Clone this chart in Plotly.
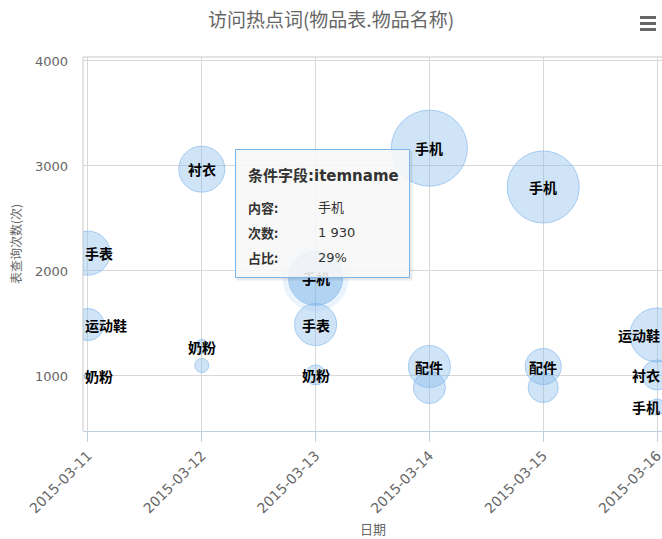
import math
import plotly.graph_objects as go

# ---- data ----
dates = ["2015-03-11", "2015-03-11", "2015-03-11",
         "2015-03-12", "2015-03-12", "2015-03-12",
         "2015-03-13", "2015-03-13", "2015-03-13",
         "2015-03-14", "2015-03-14", "2015-03-14",
         "2015-03-15", "2015-03-15", "2015-03-15",
         "2015-03-16", "2015-03-16", "2015-03-16"]
counts = [2170, 1490, 1000,
          2970, 1280, 1100,
          1930, 1490, 1010,
          3170, 1090, 890,
          2800, 1090, 890,
          1390, 1010, 705]
weights = [484, 256, 16,
           529, 49, 49,
           729, 441, 100,
           1444, 441, 256,
           1296, 324, 225,
           729, 225, 64]
labels = ["手表", "运动鞋", "奶粉",
          "衬衣", "奶粉", "",
          "手机", "手表", "奶粉",
          "手机", "配件", "",
          "手机", "配件", "",
          "运动鞋", "衬衣", "手机"]
tick_dates = ["2015-03-11", "2015-03-12", "2015-03-13",
              "2015-03-14", "2015-03-15", "2015-03-16"]
hover_index = 6
tooltip_header = "条件字段:itemname"
tooltip_rows = [("内容:", "手机"), ("次数:", "1 930"), ("占比:", "29%")]

title_text = "访问热点词(物品表.物品名称)"
x_title = "日期"
y_title = "表查询次数(次)"

# ---- layout geometry (pixels) ----
W, H = 662, 539
L, R, T, B = 83, 0, 57, 108
PW = W - L - R
PH = H - T - B


def pxx(x):
    return (x - L) / PW


def pxy(y):
    return (H - B - y) / PH


BLUE = "rgba(124,181,236,0.5)"
BLUE_LINE = "#7cb5ec"

fills = [BLUE] * len(counts)
fills[hover_index] = "rgba(124,181,236,0.72)"

fig = go.Figure()

# hover halo
hr = math.sqrt(weights[hover_index]) + 6
fig.add_trace(go.Scatter(
    x=[dates[hover_index]], y=[counts[hover_index]], mode="markers",
    marker=dict(size=[hr * hr], sizemode="area", sizeref=0.5,
                color="rgba(124,181,236,0.22)", line=dict(width=0)),
    hoverinfo="skip", showlegend=False))

fig.add_trace(go.Scatter(
    x=dates, y=counts, mode="markers",
    marker=dict(size=weights, sizemode="area", sizeref=0.5,
                color=fills, line=dict(color=BLUE_LINE, width=1)),
    showlegend=False, hoverinfo="skip"))

annotations = []
first, last = tick_dates[0], tick_dates[-1]
for d, v, lab in zip(dates, counts, labels):
    if not lab:
        continue
    a = dict(y=v, yref="y", text="<b>" + lab + "</b>", showarrow=False,
             yanchor="middle",
             font=dict(family="Noto Sans CJK SC", size=14, color="#000000"))
    if d == first:
        a.update(x=0, xref="paper", xanchor="left")
    elif d == last:
        a.update(x=1, xref="paper", xanchor="right")
    else:
        a.update(x=d, xref="x", xanchor="center")
    annotations.append(a)

# axis titles
annotations.append(dict(x=0.5, xref="paper", y=pxy(528), yref="paper",
                        text=x_title, showarrow=False, yanchor="middle",
                        font=dict(family="Noto Sans CJK SC", size=13, color="#666666")))
annotations.append(dict(x=pxx(15), xref="paper", y=0.5, yref="paper",
                        text=y_title, showarrow=False, textangle=-90,
                        xanchor="center", yanchor="middle",
                        font=dict(family="Noto Sans CJK SC", size=12, color="#666666")))

# tooltip (shadow + box + text)
bx0, by0, bx1, by1 = 235, 149, 410, 278
annotations.append(dict(x=pxx((bx0 + bx1) / 2 + 1.5), y=pxy((by0 + by1) / 2 + 1.5),
                        xref="paper", yref="paper", text=" ", showarrow=False,
                        width=bx1 - bx0, height=by1 - by0, borderpad=0,
                        bgcolor="rgba(0,0,0,0.08)", xanchor="center", yanchor="middle"))
annotations.append(dict(x=pxx((bx0 + bx1) / 2), y=pxy((by0 + by1) / 2),
                        xref="paper", yref="paper", text=" ", showarrow=False,
                        width=bx1 - bx0 - 2, height=by1 - by0 - 2, borderpad=0,
                        bgcolor="rgba(249,249,249,0.88)", bordercolor=BLUE_LINE,
                        borderwidth=1, xanchor="center", yanchor="middle"))
annotations.append(dict(x=pxx(246), y=pxy(176), xref="paper", yref="paper",
                        text="<b>" + tooltip_header + "</b>", showarrow=False,
                        xanchor="left", yanchor="middle",
                        font=dict(family="DejaVu Sans, Noto Sans CJK SC", size=15, color="#333333")))
for i, (k, val) in enumerate(tooltip_rows):
    yy = 207 + 25 * i
    annotations.append(dict(x=pxx(246), y=pxy(yy), xref="paper", yref="paper",
                            text="<b>" + k + "</b>", showarrow=False,
                            xanchor="left", yanchor="middle",
                            font=dict(family="Noto Sans CJK SC", size=13, color="#333333")))
    annotations.append(dict(x=pxx(316), y=pxy(yy), xref="paper", yref="paper",
                            text=val, showarrow=False,
                            xanchor="left", yanchor="middle",
                            font=dict(family="DejaVu Sans, Noto Sans CJK SC", size=13, color="#333333")))

shapes = [
    dict(type="line", xref="paper", yref="paper", x0=0, x1=0, y0=0, y1=1,
         line=dict(color="#C8C8C8", width=1), layer="below"),
    dict(type="line", xref="paper", yref="paper", x0=0, x1=1, y0=1, y1=1,
         line=dict(color="#C8C8C8", width=1), layer="below"),
]
for yb in (17.5, 23.5, 29.5):
    shapes.append(dict(type="rect", xref="paper", yref="paper",
                       x0=pxx(640), x1=pxx(656), y0=pxy(yb + 1.5), y1=pxy(yb - 1.5),
                       fillcolor="#666666", line=dict(width=0)))

fig.update_layout(
    width=W, height=H,
    margin=dict(l=L, r=R, t=T, b=B, autoexpand=False),
    paper_bgcolor="white", plot_bgcolor="white",
    title=dict(text=title_text, x=0.5, xref="container", y=1 - 20 / H,
               yref="container", xanchor="center", yanchor="middle",
               font=dict(family="Noto Sans CJK SC", size=19, color="#666666")),
    xaxis=dict(type="date", range=["2015-03-10 22:57:00", "2015-03-16 01:03:00"],
               tickvals=tick_dates, ticktext=tick_dates, tickangle=-45,
               ticklabeloverflow="allow",
               showgrid=True, gridcolor="#D8D8D8", gridwidth=1,
               showline=True, linecolor="#C0D0E0", linewidth=1,
               ticks="outside", ticklen=10, tickcolor="#C0D0E0", tickwidth=1,
               tickfont=dict(family="DejaVu Sans", size=14, color="#666666"),
               zeroline=False, automargin=False),
    yaxis=dict(range=[476, 4038], tickvals=[1000, 2000, 3000, 4000],
               showgrid=True, gridcolor="#D8D8D8", gridwidth=1,
               zeroline=False, showline=False, ticks="",
               ticklabelstandoff=14,
               tickfont=dict(family="DejaVu Sans", size=13, color="#666666"),
               automargin=False),
    annotations=annotations,
    shapes=shapes,
)

fig.write_html(
    "out.html",
    config={"displayModeBar": False},
    post_script="document.body.style.margin='0';document.body.style.overflow='hidden';",
)
